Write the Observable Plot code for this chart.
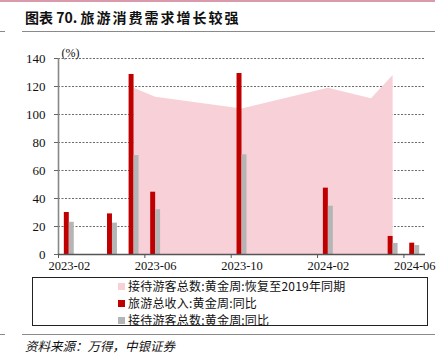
<!DOCTYPE html>
<html>
<head>
<meta charset="utf-8">
<script src="https://cdn.jsdelivr.net/npm/d3@7"></script>
<script src="https://cdn.jsdelivr.net/npm/@observablehq/plot@0.6"></script>
<style>
  html, body { margin: 0; padding: 0; background: #fff; }
  #wrap { position: relative; width: 443px; height: 363px; overflow: hidden; background: #fff; }
  .abs { position: absolute; }
  .cjk { font-family: "Noto Sans CJK SC", sans-serif; }
  #title { left: 25px; top: 7px; font-size: 14px; font-weight: bold; color: #111; white-space: nowrap; line-height: 20px; }
  #title .rest { letter-spacing: 2px; }
  #legend { left: 32px; top: 277px; width: 396px; height: 49px; border: 1px solid #222; box-sizing: border-box; }
  .li { position: absolute; left: 85px; font-size: 12px; letter-spacing: 0.2px; line-height: 16px; color: #111; white-space: nowrap; }
  .sw { display: inline-block; width: 7px; height: 7px; margin-right: 3px; vertical-align: 1px; }
  #foot { left: 25px; top: 337px; font-size: 12.5px; font-style: italic; color: #111; white-space: nowrap; line-height: 18px; }
  .hl { height: 1.5px; background: #8a8a8a; }
  #chart svg text { font-family: "Liberation Serif", "Times New Roman", serif !important; }
</style>
</head>
<body>
<div id="wrap">
  <div class="abs" style="left:0;top:0;width:435px;height:1.5px;background:#d99aab"></div>
  <div id="title" class="abs cjk">图表 70. <span class="rest">旅游消费需求增长较强</span></div>
  <div class="abs hl" style="left:22px;top:30.5px;width:413px"></div>
  <div class="abs hl" style="left:0;top:30.5px;width:5px"></div>
  <div id="chart" class="abs" style="left:0;top:0"></div>
  <div id="legend" class="abs cjk"></div>
  <div class="abs hl" style="left:22px;top:333.5px;width:413px"></div>
  <div class="abs hl" style="left:0;top:333.5px;width:5px"></div>
  <div id="foot" class="abs cjk">资料来源：万得，中银证券</div>
</div>
<script>
// ---- data ----
const months = ["2023-02","2023-03","2023-04","2023-05","2023-06","2023-07","2023-08","2023-09","2023-10","2023-11","2023-12","2024-01","2024-02","2024-03","2024-04","2024-05","2024-06"];
const barMonths = ["2023-02","2023-04","2023-05","2023-06","2023-10","2024-02","2024-05","2024-06"];
const revenueYoY = [30, 29, 128.6, 44.5, 129.3, 47.4, 12.9, 8.1];
const visitorsYoY = [23, 22.4, 70.7, 32, 71.2, 34.5, 7.9, 6.4];
const areaMonths = ["2023-05","2023-06","2023-10","2024-02","2024-04","2024-05"];
const recoveryVs2019 = [118.8, 112.4, 104, 118.8, 111.2, 127.9];
const xTickLabels = ["2023-02","2023-06","2023-10","2024-02","2024-06"];
const yTicks = [0, 20, 40, 60, 80, 100, 120, 140];
const seriesNames = ["接待游客总数:黄金周:恢复至2019年同期", "旅游总收入:黄金周:同比", "接待游客总数:黄金周:同比"];
const seriesColors = ["#F7D1D7", "#C00000", "#B5B5B5"];

// ---- build tables ----
const idx = m => months.indexOf(m);
const bars = barMonths.map((m, i) => ({c: idx(m) + 0.5, rev: revenueYoY[i], vis: visitorsYoY[i]}));
const area = areaMonths.map((m, i) => ({c: idx(m) + 0.5, v: recoveryVs2019[i]}));
const tickPos = xTickLabels.map(idx);
const labelPos = tickPos.map(p => p + 0.5);
const half = 0.23;

const chart = Plot.plot({
  width: 443,
  height: 275,
  marginLeft: 58,
  marginRight: 18,
  marginTop: 58,
  marginBottom: 21,
  style: {fontFamily: "'Liberation Serif', 'Times New Roman', serif", fontSize: "12.5px", color: "#111", background: "transparent"},
  x: {domain: [0, months.length]},
  y: {domain: [0, 140]},
  marks: [
    Plot.ruleY(yTicks.filter(t => t > 0), {stroke: "#444", strokeWidth: 0.8, strokeDasharray: "2,1.5"}),
    Plot.areaY(area, {x: "c", y: "v", fill: seriesColors[0], curve: "linear"}),
    Plot.rect(bars, {x1: d => d.c - half, x2: d => d.c, y1: 0, y2: "rev", fill: seriesColors[1]}),
    Plot.rect(bars, {x1: d => d.c, x2: d => d.c + half, y1: 0, y2: "vis", fill: seriesColors[2]}),
    Plot.ruleX([0], {stroke: "#888", strokeWidth: 1.6}),
    Plot.ruleY([0], {stroke: "#555", strokeWidth: 1.6}),
    Plot.axisY({ticks: yTicks, tickSize: 4, tickPadding: 9, label: null, stroke: "#666", fontSize: 13}),
    Plot.axisX({ticks: tickPos, tickSize: 4, tickFormat: () => "", label: null, stroke: "#555"}),
    Plot.axisX({ticks: labelPos, tickSize: 0, tickPadding: 7, label: null, fontSize: 12.5, tickFormat: (d, i) => xTickLabels[i]}),
    Plot.text(["(%)"], {frameAnchor: "top-left", dx: 3, dy: -10, textAnchor: "start", fontSize: 12})
  ]
});
document.getElementById("chart").appendChild(chart);

// legend
const lg = document.getElementById("legend");
seriesNames.forEach((n, i) => {
  const d = document.createElement("div");
  d.className = "li";
  d.style.top = (0 + i * 17) + "px";
  d.innerHTML = `<span class="sw" style="background:${seriesColors[i]}"></span>${n}`;
  lg.appendChild(d);
});
</script>
</body>
</html>
